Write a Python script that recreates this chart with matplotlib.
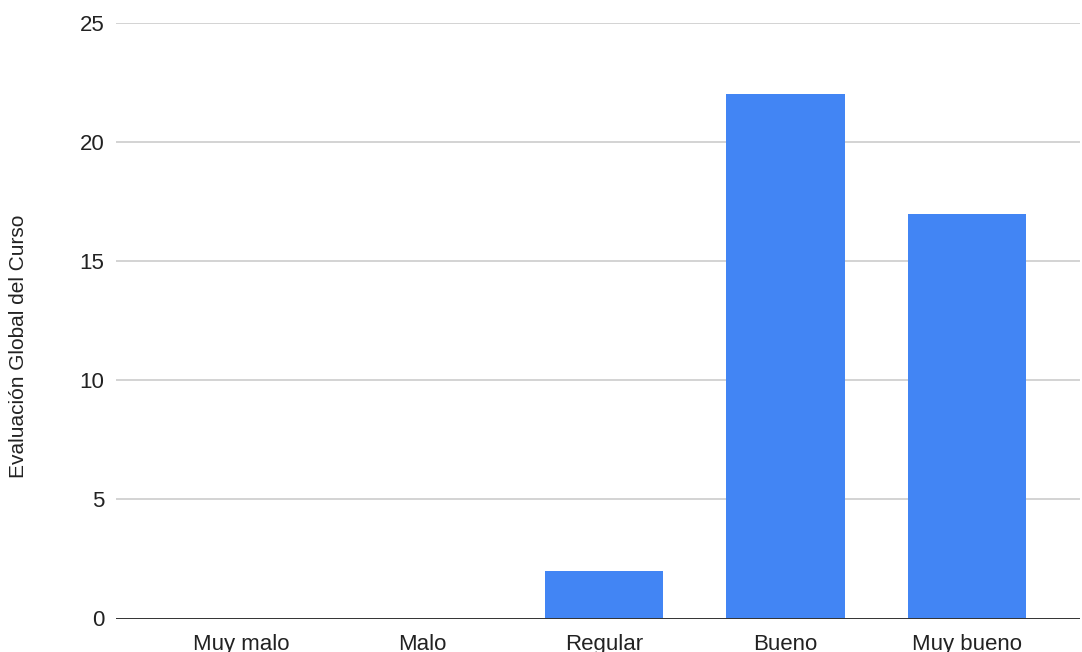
import matplotlib
matplotlib.use("Agg")
import matplotlib.pyplot as plt

# Datos de la encuesta
categorias = ["Muy malo", "Malo", "Regular", "Bueno", "Muy bueno"]
valores = [0, 0, 2, 22, 17]
ticks_y = [0, 5, 10, 15, 20, 25]

plt.rcParams["font.family"] = ["Liberation Sans", "DejaVu Sans"]

fig = plt.figure(figsize=(10.82, 6.52), dpi=100)
ax = fig.add_axes([116 / 1082, 33.5 / 652, 964 / 1082, 595.5 / 652])

x = list(range(len(categorias)))
ax.bar(x, valores, width=0.655, color="#4285f4", zorder=3)

ax.set_xlim(-0.689, 4.623)
ax.set_ylim(0, 25)
ax.set_yticks(ticks_y)
ax.set_xticks(x)
ax.set_xticklabels(categorias)

ax.grid(axis="y", color="#cccccc", linewidth=1.2, zorder=0)
ax.axhline(0, color="#333333", linewidth=1.4, zorder=4)

for s in ax.spines.values():
    s.set_visible(False)
ax.tick_params(axis="both", length=0, labelsize=16, colors="#222222")
ax.tick_params(axis="y", pad=8.5)
ax.tick_params(axis="x", pad=11)

# titulo del eje y, algo desplazado hacia abajo como en el original
fig.text(19 / 1082, 1 - 346 / 652, "Evaluación Global del Curso",
         rotation=90, fontsize=15, color="#222222", ha="center", va="center")

fig.savefig("out.png", dpi=100)
